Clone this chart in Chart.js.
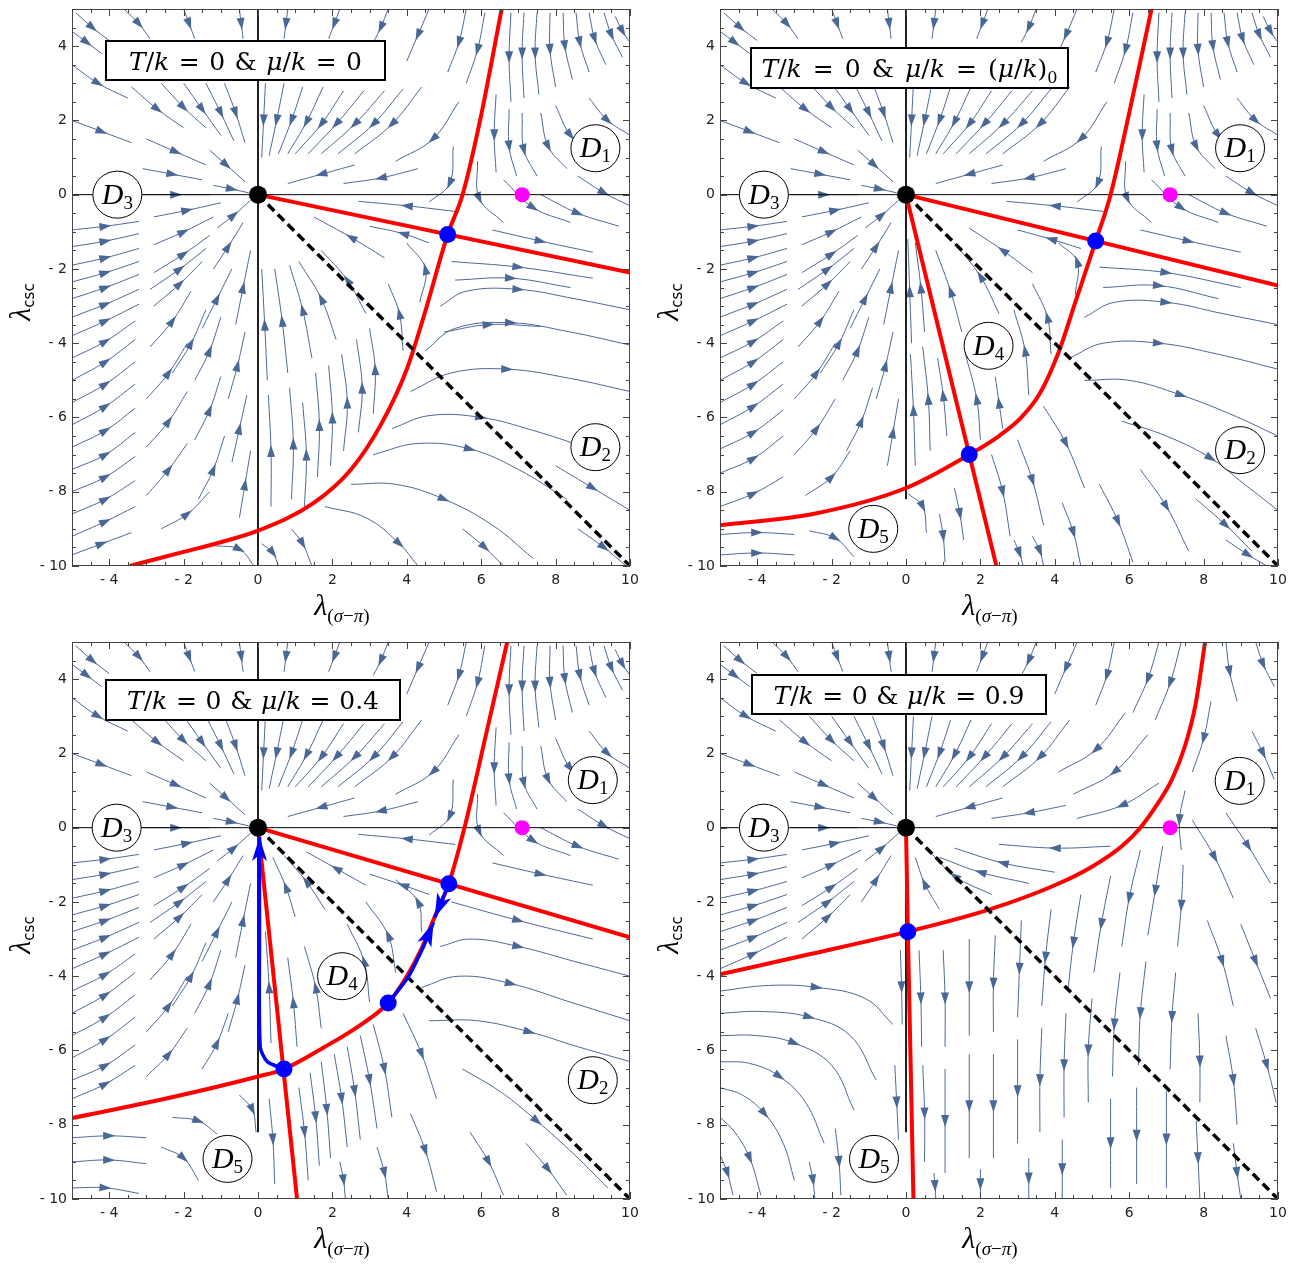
<!DOCTYPE html>
<html>
<head>
<meta charset="utf-8">
<script src="https://cdn.jsdelivr.net/npm/chart.js@4.4.0/dist/chart.umd.min.js"></script>
<style>
body { margin: 0; background: #fff; width: 1316px; height: 1266px; position: relative; overflow: hidden; }
.panel { position: absolute; width: 648px; height: 633px; }
</style>
</head>
<body>
<div class="panel" style="left:0;top:0"><canvas id="c0" width="648" height="633"></canvas></div>
<div class="panel" style="left:648px;top:0"><canvas id="c1" width="648" height="633"></canvas></div>
<div class="panel" style="left:0;top:633px"><canvas id="c2" width="648" height="633"></canvas></div>
<div class="panel" style="left:648px;top:633px"><canvas id="c3" width="648" height="633"></canvas></div>
<script>
const xTicks = [-4, -2, 0, 2, 4, 6, 8, 10]
const yTicks = [4, 2, 0, -2, -4, -6, -8, -10]

// streamlines as flat [x0,y0, x1,y1, x2,y2 ...], arrowhead at the middle point
// upper left part, the same in all four panels
const streamsNW = [
  [-4.9,4.9, -4.45,4.5, -4.0,4.15], [-3.6,5.0, -3.2,4.6, -2.9,4.2], [-2.0,5.0, -1.85,4.6, -1.7,4.2],
  [-0.5,5.0, -0.45,4.6, -0.4,4.2], [0.8,5.0, 0.75,4.6, 0.7,4.2], [2.2,5.0, 2.05,4.6, 1.9,4.2],
  [3.5,5.0, 3.3,4.5, 3.1,4.1], [4.6,5.0, 4.3,4.3, 4.0,3.6], [5.6,5.0, 5.4,4.1, 5.1,3.3],
  [-5.0,4.4, -4.6,4.1, -4.2,3.8],
  [-5.0,3.5, -4.3,3.0, -3.5,2.6], [-3.4,2.9, -2.7,2.3, -2.0,1.8], [-2.0,3.0, -1.5,2.3, -1.0,1.6],
  [-2.6,3.0, -2.0,2.35, -1.4,1.8], [-1.4,3.0, -1.0,2.2, -0.65,1.45],
  [-0.9,3.0, -0.6,2.2, -0.35,1.4], [-5.0,2.0, -4.2,1.7, -3.4,1.4], [-3.0,1.5, -2.2,1.15, -1.4,0.8],
  [-1.3,1.2, -0.85,0.8, -0.35,0.35], [-3.1,0.7, -2.3,0.55, -1.5,0.4], [-3.1,0.0, -2.2,0.0, -1.3,0.0],
  [-1.2,0.25, -0.7,0.15, -0.25,0.05], [-5.0,-0.95, -4.1,-0.85, -3.2,-0.72], [-2.8,-0.6, -1.9,-0.42, -1.0,-0.22],
  [-5.0,-1.4, -4.1,-1.25, -3.2,-1.05], [-5.0,-2.35, -4.1,-2.1, -3.2,-1.8], [-5.0,-3.3, -4.1,-2.95, -3.2,-2.55],
  [-2.9,-2.55, -2.1,-2.0, -1.4,-1.45],
  [-5.0,-1.9, -4.1,-1.7, -3.2,-1.45], [-2.8,-1.35, -2.0,-1.0, -1.2,-0.6], [-1.1,-0.9, -0.65,-0.55, -0.2,-0.15],
  [-5.0,-2.8, -4.1,-2.5, -3.2,-2.15], [-2.8,-2.1, -2.0,-1.6, -1.3,-1.1], [-5.0,-3.8, -4.1,-3.4, -3.2,-2.95],
  [-2.8,-3.0, -2.1,-2.4, -1.5,-1.8], [-1.2,-2.0, -0.8,-1.4, -0.4,-0.75],
  [0.2,3.0, 0.15,2.0, 0.1,1.0], [1.2,2.9, 0.9,2.0, 0.55,1.1], [2.3,2.8, 1.7,1.9, 1.0,1.1],
  [3.4,2.8, 2.6,1.9, 1.7,1.1], [4.4,2.9, 3.6,1.9, 2.6,1.1],
  [0.7,3.0, 0.5,2.0, 0.3,1.05], [1.75,2.9, 1.3,1.95, 0.8,1.1], [2.85,2.8, 2.1,1.9, 1.35,1.1],
  [3.9,2.85, 3.1,1.9, 2.15,1.1]
]
// panels 1-3 only
const streamsTopMid = [
  [5.4,2.5, 4.7,1.5, 3.7,0.9], [2.6,0.8, 1.7,0.55, 0.8,0.3], [4.3,0.7, 3.3,0.45, 2.3,0.3],
  [5.3,-0.45, 4.0,-0.3, 2.7,-0.18], [5.25,1.3, 5.15,0.3, 4.6,-0.2], [6.1,4.9, 5.9,3.9, 5.6,3.0]
]
const streamsD1 = [
  [6.8,4.9, 6.75,3.7, 6.8,2.5], [7.5,4.9, 7.45,3.8, 7.55,2.7], [8.2,4.9, 8.25,4.0, 8.45,3.1],
  [8.9,4.9, 9.05,4.2, 9.35,3.5], [9.6,4.8, 9.8,4.4, 10.0,4.1], [6.4,2.7, 6.35,1.6, 6.4,0.6],
  [7.1,2.2, 7.15,1.2, 7.5,0.5], [8.0,2.4, 8.4,1.6, 9.1,1.0], [8.9,2.6, 9.4,2.0, 10.0,1.6],
  [5.9,0.9, 5.95,-0.1, 6.6,-0.75], [6.6,0.4, 7.4,-0.35, 8.4,-0.75], [7.6,0.0, 8.6,-0.5, 9.7,-0.85],
  [8.6,0.5, 9.3,0.05, 10.0,-0.3], [6.3,-0.95, 7.6,-1.25, 9.0,-1.55],
  [7.15,4.9, 7.1,3.8, 7.15,2.6], [7.85,4.9, 7.85,3.9, 8.0,2.9], [8.55,4.9, 8.65,4.1, 8.9,3.3],
  [9.3,4.9, 9.5,4.3, 9.8,3.7], [7.6,2.2, 7.8,1.3, 8.3,0.7], [6.75,2.3, 6.75,1.3, 6.95,0.5]
]
const streamsW = [
  [-5.0,-5.0, -4.1,-4.5, -3.3,-3.9], [-2.9,-4.1, -2.3,-3.4, -1.8,-2.6], [-1.5,-3.6, -1.1,-2.8, -0.7,-2.0],
  [-0.6,-3.5, -0.4,-2.5, -0.2,-1.5], [-5.0,-6.2, -4.1,-5.7, -3.3,-5.1], [-3.0,-5.5, -2.4,-4.8, -1.9,-4.0],
  [-1.7,-5.0, -1.3,-4.2, -1.0,-3.3], [-0.8,-5.5, -0.55,-4.6, -0.35,-3.7],
  [-5.0,-4.4, -4.1,-3.95, -3.3,-3.4], [-5.0,-5.6, -4.1,-5.1, -3.3,-4.5], [-2.3,-4.8, -1.8,-4.0, -1.4,-3.1]
]
const streamsP1 = [
  [-5.0,-7.4, -4.1,-7.0, -3.3,-6.4], [-3.0,-6.8, -2.4,-6.1, -1.9,-5.3], [-1.7,-6.6, -1.3,-5.8, -1.0,-4.9],
  [-0.7,-7.2, -0.5,-6.3, -0.3,-5.4], [-5.0,-8.6, -4.1,-8.2, -3.3,-7.7], [-3.0,-8.1, -2.4,-7.4, -1.9,-6.7],
  [-1.6,-8.2, -1.2,-7.4, -0.9,-6.5], [-0.5,-8.7, -0.35,-7.8, -0.2,-6.9], [-5.0,-9.7, -4.2,-9.4, -3.4,-9.1],
  [-2.6,-9.0, -1.9,-8.6, -1.3,-8.0], [-1.2,-9.45, -0.5,-9.55, -0.1,-10.0], [0.1,-9.4, 0.4,-9.65, 0.55,-10.0],
  [0.9,-9.0, 1.2,-9.4, 1.45,-10.0], [-5.0,-6.8, -4.1,-6.35, -3.3,-5.75], [-5.0,-8.0, -4.1,-7.6, -3.3,-7.05],
  [-5.0,-9.2, -4.1,-8.8, -3.3,-8.4],
  [0.35,-8.4, 0.35,-6.9, 0.28,-5.4], [0.25,-5.0, 0.18,-3.5, 0.1,-2.0], [0.9,-8.2, 0.95,-6.7, 0.85,-5.2],
  [0.8,-4.8, 0.65,-3.4, 0.45,-2.0], [1.6,-7.6, 1.65,-6.2, 1.55,-4.8], [1.45,-4.4, 1.2,-3.1, 0.85,-1.9],
  [2.3,-6.9, 2.4,-5.6, 2.25,-4.3], [2.1,-3.9, 1.7,-2.8, 1.1,-1.8], [3.1,-5.9, 3.15,-4.7, 3.0,-3.6],
  [2.9,-3.2, 2.4,-2.3, 1.7,-1.5], [3.9,-4.2, 3.8,-3.2, 3.5,-2.4], [4.35,-2.9, 4.5,-2.0, 4.0,-1.3],
  [3.4,-1.7, 2.5,-1.15, 1.5,-0.6], [4.6,-1.3, 3.9,-1.05, 3.0,-0.85],
  [1.25,-8.4, 1.3,-7.0, 1.2,-5.6], [1.95,-7.3, 2.0,-6.0, 1.9,-4.6], [2.7,-6.4, 2.8,-5.2, 2.65,-3.9],
  [5.2,-1.8, 7.0,-1.95, 9.0,-2.25], [4.9,-3.0, 5.6,-2.6, 7.0,-2.55, 8.5,-2.8, 10.0,-3.1],
  [4.5,-4.2, 5.3,-3.6, 6.8,-3.45, 8.4,-3.7, 10.0,-4.05], [4.1,-5.3, 5.2,-4.8, 6.7,-4.7, 8.4,-4.95, 10.0,-5.3],
  [3.6,-6.3, 4.6,-5.95, 6.0,-6.0, 7.4,-6.35, 8.8,-6.8], [3.1,-7.0, 4.3,-6.7, 5.7,-6.85, 7.0,-7.4, 8.3,-8.2],
  [2.5,-7.8, 3.7,-7.8, 5.0,-8.2, 6.3,-8.9, 7.4,-9.8], [1.8,-8.4, 2.9,-8.7, 3.8,-9.4, 4.3,-10.0],
  [5.5,-9.0, 6.1,-9.5, 6.6,-10.0], [8.0,-7.3, 9.0,-7.9, 10.0,-8.5], [8.6,-9.0, 9.3,-9.5, 9.9,-10.0],
  [5.3,-2.3, 6.8,-2.25, 8.4,-2.5], [5.0,-3.7, 6.2,-3.5, 7.6,-3.55]
]
const streamsP2 = [
  [-5.0,-7.5, -4.1,-7.1, -3.3,-6.5], [-3.0,-7.0, -2.4,-6.3, -1.9,-5.5], [-1.6,-6.9, -1.2,-6.1, -0.9,-5.2],
  [-0.5,-7.3, -0.35,-6.4, -0.2,-5.5], [-5.0,-8.4, -4.1,-8.05, -3.3,-7.6], [-2.7,-8.1, -2.0,-7.6, -1.5,-6.9],
  [-5.0,-6.85, -4.1,-6.4, -3.3,-5.8],
  [-5.0,-9.15, -4.0,-9.1, -3.0,-9.15], [-5.0,-9.7, -4.0,-9.65, -3.0,-9.7], [-2.6,-9.05, -1.9,-9.25, -1.4,-9.75],
  [0.05,-8.05, 0.45,-8.4, 0.55,-9.1], [0.9,-8.6, 1.0,-9.2, 1.05,-9.9], [1.3,-7.9, 1.45,-8.6, 1.55,-9.3],
  [0.25,-7.3, 0.2,-5.8, 0.12,-4.3], [0.15,-4.0, 0.1,-2.6, 0.05,-1.2], [0.65,-6.9, 0.6,-5.5, 0.45,-4.1],
  [0.5,-3.7, 0.4,-2.5, 0.25,-1.3], [1.1,-6.5, 1.0,-5.4, 0.85,-4.4],
  [2.0,-6.6, 1.9,-5.5, 1.6,-4.3], [2.6,-6.3, 2.5,-5.6, 2.4,-4.9], [3.3,-5.4, 3.2,-4.2, 2.9,-3.1],
  [3.9,-4.3, 3.8,-3.3, 3.4,-2.4], [1.5,-3.7, 1.2,-2.6, 0.8,-1.5], [2.5,-3.2, 2.0,-2.2, 1.3,-1.3],
  [3.4,-2.1, 2.6,-1.5, 1.7,-0.9], [4.55,-2.7, 4.6,-1.8, 4.1,-1.3], [4.7,-1.45, 3.9,-1.2, 3.0,-0.95],
  [2.3,-7.0, 2.6,-8.0, 2.8,-9.2], [3.0,-6.6, 3.4,-7.7, 3.7,-8.9], [3.7,-5.7, 4.3,-6.7, 4.8,-7.9],
  [4.2,-8.3, 4.5,-9.1, 4.7,-10.0], [5.2,-7.8, 5.7,-8.8, 6.1,-9.9], [6.3,-7.4, 7.0,-8.4, 7.6,-9.6],
  [2.9,-9.3, 3.05,-9.65, 3.15,-10.0], [3.4,-9.2, 3.6,-9.6, 3.7,-10.0],
  [5.2,-1.95, 7.0,-2.1, 9.0,-2.5], [4.8,-3.3, 5.6,-2.9, 7.0,-2.9, 8.5,-3.2, 10.0,-3.5],
  [4.4,-4.4, 5.3,-4.0, 6.8,-4.0, 8.4,-4.3, 10.0,-4.7], [4.8,-5.0, 6.0,-5.0, 7.4,-5.4, 8.7,-5.9, 10.0,-6.5],
  [5.8,-6.1, 7.0,-6.5, 8.2,-7.1, 9.1,-7.8, 10.0,-8.5], [7.8,-8.2, 8.6,-8.9, 9.3,-9.6],
  [5.3,-2.5, 6.8,-2.45, 8.4,-2.8], [8.6,-9.3, 9.2,-9.7, 9.7,-10.0]
]
const streamsP3 = [
  [-5.0,-7.3, -4.1,-6.9, -3.3,-6.4], [-3.0,-6.7, -2.4,-6.1, -1.9,-5.4], [-1.5,-6.5, -1.1,-5.8, -0.8,-5.0],
  [-5.0,-6.8, -4.1,-6.4, -3.3,-5.85],
  [-5.0,-8.35, -4.0,-8.3, -3.0,-8.35], [-5.0,-9.0, -4.0,-8.95, -3.0,-9.05], [-5.0,-9.7, -4.1,-9.7, -3.2,-9.85],
  [-2.3,-7.8, -1.6,-7.9, -1.1,-8.25], [-2.6,-8.6, -2.0,-8.9, -1.6,-9.5], [-0.5,-7.2, -0.15,-7.6, -0.05,-8.2],
  [0.3,-7.3, 0.4,-8.4, 0.45,-9.6],
  [1.1,-7.0, 1.25,-8.2, 1.35,-9.5], [1.7,-6.3, 1.85,-7.6, 1.95,-8.9], [2.4,-5.9, 2.6,-7.1, 2.75,-8.4],
  [3.1,-5.3, 3.4,-6.5, 3.6,-7.8], [2.2,-9.0, 2.3,-9.5, 2.35,-10.0], [3.2,-8.6, 3.4,-9.3, 3.5,-10.0],
  [3.9,-5.0, 4.4,-6.1, 4.8,-7.3], [4.1,-7.7, 4.5,-8.7, 4.8,-9.8],
  [1.4,-6.6, 1.55,-7.8, 1.65,-9.1], [2.05,-6.1, 2.25,-7.3, 2.4,-8.6], [2.75,-5.6, 3.0,-6.8, 3.2,-8.1],
  [5.2,-2.0, 7.0,-2.5, 9.0,-3.0], [4.9,-3.2, 5.7,-3.0, 7.0,-3.2, 8.5,-3.6, 10.0,-4.0],
  [4.4,-4.3, 5.4,-4.0, 6.8,-4.2, 8.4,-4.7, 10.0,-5.2], [4.6,-5.2, 5.9,-5.2, 7.3,-5.5, 8.6,-5.9, 10.0,-6.3],
  [5.5,-6.5, 6.5,-7.1, 7.5,-7.9, 8.5,-8.8, 9.4,-9.7], [5.7,-8.2, 6.2,-9.0, 6.6,-9.9],
  [7.2,-8.5, 7.8,-9.2, 8.3,-9.9],
  [1.05,-5.9, 0.95,-4.7, 0.8,-3.5], [1.7,-5.4, 1.55,-4.3, 1.25,-3.2], [3.0,-4.7, 2.85,-3.6, 2.4,-2.6],
  [3.7,-3.9, 3.5,-2.9, 2.9,-2.0], [4.4,-2.8, 4.3,-2.0, 3.7,-1.4], [1.0,-2.4, 0.75,-1.6, 0.4,-0.8],
  [1.8,-2.2, 1.3,-1.45, 0.7,-0.75], [2.9,-1.55, 2.1,-1.1, 1.3,-0.65], [4.6,-1.8, 3.9,-1.55, 3.0,-1.25],
  [0.35,-5.8, 0.3,-4.3, 0.2,-2.8]
]
const streamsP4 = [
  [6.8,5.0, 6.5,4.0, 6.1,3.1], [6.5,2.5, 5.6,1.5, 4.5,0.9], [6.8,1.2, 5.8,0.6, 4.6,0.25],
  [2.6,0.8, 1.7,0.55, 0.8,0.3], [4.3,0.6, 3.3,0.4, 2.3,0.25], [5.5,-0.5, 4.0,-0.55, 2.5,-0.45],
  [4.0,-1.2, 2.6,-0.95, 1.3,-0.55], [2.3,-1.8, 1.3,-1.3, 0.6,-0.6], [0.9,-2.2, 0.5,-1.5, 0.25,-0.8],
  [7.4,5.0, 7.1,3.9, 6.7,2.9], [5.9,3.1, 5.1,2.1, 4.1,1.5], [3.3,-1.5, 2.0,-1.2, 0.9,-0.8],
  [8.6,5.0, 8.7,4.2, 8.9,3.4], [9.4,5.0, 9.6,4.4, 9.9,3.8], [8.2,3.4, 8.0,2.4, 7.7,1.5],
  [7.5,1.0, 7.35,0.2, 7.4,-0.6], [7.7,0.2, 8.3,-0.8, 8.8,-1.9], [8.6,0.4, 9.2,-0.5, 9.8,-1.5],
  [9.3,2.6, 9.6,2.0, 9.9,1.3],
  [-5.0,-4.4, -3.7,-4.25, -2.4,-4.3, -1.1,-4.6, -0.35,-5.3], [-5.0,-5.0, -3.9,-4.95, -2.6,-5.1, -1.5,-5.6, -0.8,-6.8],
  [-5.0,-5.6, -4.0,-5.6, -3.0,-5.8, -2.0,-6.4, -1.4,-7.6], [-5.0,-6.3, -4.2,-6.35, -3.4,-6.7, -2.7,-7.4, -2.2,-8.5],
  [-5.0,-7.0, -4.4,-7.2, -3.8,-7.7, -3.3,-8.5, -3.0,-9.5], [-5.0,-7.8, -4.6,-8.2, -4.2,-8.9, -3.9,-9.9],
  [-5.0,-8.8, -4.8,-9.3, -4.65,-9.9], [-0.3,-6.4, -0.25,-7.4, -0.2,-8.4], [-1.9,-8.1, -1.8,-9.0, -1.75,-9.9],
  [-0.15,-3.3, -0.12,-4.3, -0.1,-5.3], [-2.6,-9.0, -2.5,-9.5, -2.45,-10.0],
  [0.35,-3.3, 0.4,-4.6, 0.42,-5.9], [0.45,-6.4, 0.5,-7.7, 0.5,-9.0], [1.0,-3.3, 1.05,-4.6, 1.05,-5.9],
  [1.05,-6.5, 1.05,-7.9, 1.05,-9.3], [1.7,-3.0, 1.7,-4.3, 1.7,-5.6], [1.7,-6.1, 1.7,-7.5, 1.7,-8.9],
  [2.4,-2.9, 2.35,-4.2, 2.35,-5.5], [2.35,-6.1, 2.35,-7.5, 2.35,-8.9], [3.1,-2.5, 3.05,-3.8, 3.0,-5.1],
  [3.0,-5.7, 3.0,-7.1, 3.0,-8.5], [3.9,-2.2, 3.75,-3.5, 3.65,-4.8], [3.65,-5.4, 3.6,-6.8, 3.6,-8.2],
  [4.7,-1.8, 4.5,-3.1, 4.35,-4.4], [4.3,-5.0, 4.25,-6.4, 4.25,-7.8], [5.5,-1.3, 5.25,-2.6, 5.05,-3.9],
  [5.0,-4.6, 4.9,-6.0, 4.9,-7.4], [6.3,-0.6, 6.0,-1.9, 5.8,-3.2], [5.75,-3.9, 5.6,-5.3, 5.55,-6.7],
  [5.5,-7.3, 5.5,-8.5, 5.5,-9.7], [6.9,-0.5, 6.7,-1.7, 6.5,-2.9], [6.45,-3.6, 6.3,-5.0, 6.25,-6.4],
  [6.2,-7.0, 6.2,-8.3, 6.2,-9.6], [7.45,-1.0, 7.4,-2.1, 7.3,-3.2], [7.25,-3.9, 7.15,-5.1, 7.1,-6.5],
  [7.0,-7.1, 7.0,-8.4, 7.0,-9.7], [8.1,-2.5, 8.5,-3.6, 8.8,-4.8], [9.0,-2.6, 9.4,-3.6, 9.8,-4.6],
  [8.6,-5.6, 8.8,-6.8, 8.9,-8.0], [9.4,-5.4, 9.7,-6.4, 9.95,-7.4], [7.85,-5.0, 7.9,-6.3, 7.9,-7.4],
  [7.8,-7.9, 7.85,-8.9, 7.9,-10.0], [8.8,-8.5, 8.9,-9.3, 9.0,-10.0], [4.2,-8.4, 4.2,-9.2, 4.2,-10.0],
  [0.75,-9.3, 0.78,-9.65, 0.8,-10.0], [2.0,-9.2, 2.0,-9.6, 2.0,-10.0], [3.3,-8.9, 3.3,-9.45, 3.3,-10.0]
]

// red separatrices
const red1 = [
  [0,0, 10,-2.1],
  [-3.45,-10, -2,-9.62, -1,-9.36, 0,-9.05, 1.5,-8.3, 2.5,-7.4, 3.3,-6.2, 4.0,-4.7, 4.45,-3.3, 5.1,-1.07, 5.5,0, 5.97,2, 6.55,5]
]
const red2 = [
  [0,0, 10,-2.45],
  [0,0, 2.43,-10],
  [-5,-8.9, -2.5,-8.6, 0,-7.9, 1.7,-7.0, 2.5,-6.5, 3.1,-6.0, 3.6,-5.35, 4.1,-4.25, 4.55,-2.9, 5.1,-1.25, 5.5,0, 6.0,2.2, 6.6,5]
]
const red3 = [
  [0,0, 10,-2.95],
  [0,0, 1.05,-10],
  [-5,-7.82, -2.5,-7.3, 0,-6.7, 0.7,-6.5, 1.8,-5.9, 2.7,-5.35, 3.5,-4.72, 4.0,-4.0, 4.4,-3.25, 4.75,-2.4, 5.13,-1.5, 5.55,0, 6.15,2.6, 6.7,5]
]
const red4 = [
  [0,0, 0.05,-2.8, 0.2,-10],
  [-5,-3.95, -2.6,-3.41, 0.05,-2.8, 2.25,-2.2, 4.0,-1.55, 5.0,-1.05, 5.8,-0.5, 6.3,0, 6.8,0.7, 7.15,1.3, 7.5,2.2, 7.78,3.3, 8.04,5]
]
const bluePaths3 = [
  [0.7,-6.5, 0.25,-6.3, 0.06,-5.9, 0.04,-3.0, 0.04,-0.25],
  [3.5,-4.72, 4.05,-4.0, 4.45,-3.2, 4.72,-2.55],
  [5.13,-1.51, 4.95,-1.95, 4.75,-2.42]
]
const dashedLine = [0,0, 10,-10]
const blackDot = [0, 0]
const magentaDot = [7.1, 0]
const blueDots = [
  [5.1,-1.07],
  [5.1,-1.25, 1.7,-7.0],
  [5.13,-1.51, 3.5,-4.72, 0.7,-6.5],
  [0.05,-2.8]
]
const regionLabels = [
  [[9.07,1.25,'1'], [-3.78,0,'3'], [9.07,-6.8,'2']],
  [[8.98,1.25,'1'], [-3.82,0,'3'], [2.22,-4.07,'4'], [8.98,-6.88,'2'], [-0.88,-9.0,'5']],
  [[9.0,1.28,'1'], [-3.8,0,'3'], [2.26,-4.0,'4'], [9.0,-6.8,'2'], [-0.82,-8.92,'5']],
  [[8.97,1.26,'1'], [-3.82,0,'3'], [-0.86,-8.92,'5']]
]
const rhsText = [
  [['0','r']],
  [['(','r'],['μ','i'],['/','r'],['k','i'],[')','r'],['0','s']],
  [['0.4','r']],
  [['0.9','r']]
]

const SC = '#4a6896'
const SERIF = '"Liberation Serif", "DejaVu Serif", serif'
const TSERIF = '"DejaVu Serif", serif'
const FONTS = {
  i: 'italic 25px ' + TSERIF,
  r: '25px ' + TSERIF,
  s: '16px ' + TSERIF
}

function toPts(a) {
  const p = []
  for (let i = 0; i < a.length; i += 2) p.push({x: a[i], y: a[i + 1]})
  return p
}
function fmt(v) {
  return v < 0 ? '- ' + Math.abs(v) : String(v)
}

const arrowPlugin = {
  id: 'arrows',
  afterDatasetDraw(chart, args) {
    const ds = chart.data.datasets[args.index]
    if (!ds.arrow) return
    const pts = args.meta.data
    const n = pts.length
    const ctx = chart.ctx, a = chart.chartArea
    let k, p, q, len, hw, notch, shift
    if (ds.arrow === 'end') {
      k = n - 1; p = pts[n - 2]; q = pts[n - 1]
      len = 24; hw = 7.5; notch = 6; shift = 0
    } else {
      k = Math.floor(n / 2); p = pts[k - 1]; q = pts[k + 1]
      len = 12; hw = 4; notch = 0; shift = 6
    }
    let dx = q.x - p.x, dy = q.y - p.y
    const d = Math.hypot(dx, dy) || 1
    dx /= d; dy /= d
    const tx = pts[k].x + dx * shift, ty = pts[k].y + dy * shift
    const bx = tx - dx * len, by = ty - dy * len
    ctx.save()
    ctx.beginPath()
    ctx.rect(a.left, a.top, a.right - a.left, a.bottom - a.top)
    ctx.clip()
    ctx.beginPath()
    ctx.moveTo(tx, ty)
    ctx.lineTo(bx - dy * hw, by + dx * hw)
    ctx.lineTo(bx + dx * notch, by + dy * notch)
    ctx.lineTo(bx + dy * hw, by - dx * hw)
    ctx.closePath()
    ctx.fillStyle = ds.borderColor
    ctx.fill()
    ctx.restore()
  }
}

function richWidth(ctx, segs) {
  let w = 0
  segs.forEach(s => {
    if (typeof s === 'number') { w += s; return }
    ctx.font = s.f
    w += ctx.measureText(s.t).width
  })
  return w
}
function drawRich(ctx, segs, x, y) {
  let cx = x
  segs.forEach(s => {
    if (typeof s === 'number') { cx += s; return }
    ctx.font = s.f
    ctx.fillText(s.t, cx, y + (s.dy || 0))
    cx += ctx.measureText(s.t).width
  })
}

const decoPlugin = {
  id: 'deco',
  afterDraw(chart) {
    const o = chart.options.plugins.deco
    const ctx = chart.ctx, a = chart.chartArea
    const xs = chart.scales.x, ys = chart.scales.y
    ctx.save()
    // frame and inner ticks
    ctx.strokeStyle = '#444'
    ctx.lineWidth = 1
    ctx.strokeRect(a.left + 0.5, a.top + 0.5, a.right - a.left - 1, a.bottom - a.top - 1)
    ctx.beginPath()
    for (let v = -5; v <= 10.001; v += 0.5) {
      const L = Math.abs(v % 2) < 1e-6 ? 7 : 4
      const px = Math.round(xs.getPixelForValue(v)) + 0.5
      ctx.moveTo(px, a.bottom); ctx.lineTo(px, a.bottom - L)
      ctx.moveTo(px, a.top); ctx.lineTo(px, a.top + L)
    }
    for (let v = -10; v <= 5.001; v += 0.5) {
      const L = Math.abs(v % 2) < 1e-6 ? 7 : 4
      const py = Math.round(ys.getPixelForValue(v)) + 0.5
      ctx.moveTo(a.left, py); ctx.lineTo(a.left + L, py)
      ctx.moveTo(a.right, py); ctx.lineTo(a.right - L, py)
    }
    ctx.stroke()

    // region labels
    ctx.textBaseline = 'alphabetic'
    o.labels.forEach(([x, y, n]) => {
      const cx = xs.getPixelForValue(x), cy = ys.getPixelForValue(y)
      ctx.beginPath()
      ctx.ellipse(cx, cy, 24.5, 23.5, 0, 0, 2 * Math.PI)
      ctx.fillStyle = '#fff'
      ctx.fill()
      ctx.strokeStyle = '#000'
      ctx.lineWidth = 1
      ctx.stroke()
      ctx.fillStyle = '#000'
      const segs = [{t: 'D', f: 'italic 30px ' + SERIF}, {t: n, f: '19px ' + SERIF, dy: 5}]
      const w = richWidth(ctx, segs)
      drawRich(ctx, segs, cx - w / 2, cy + 9)
    })

    // title box
    const b = o.box
    const bx = a.left + b[0], by = a.top + b[1]
    ctx.fillStyle = '#fff'
    ctx.fillRect(bx, by, b[2], b[3])
    ctx.strokeStyle = '#000'
    ctx.lineWidth = 2
    ctx.strokeRect(bx, by, b[2], b[3])
    const parts = [['T','i'],['/','r'],['k','i'],'g',['=','r'],'g',['0','r'],'g',['&','r'],'g',
                   ['μ','i'],['/','r'],['k','i'],'g',['=','r'],'g'].concat(o.rhs)
    const raw = parts.filter(p => p !== 'g').map(p => ({t: p[0], f: FONTS[p[1]]}))
    const gaps = parts.filter(p => p === 'g').length
    const g = Math.max(4, (b[4] - richWidth(ctx, raw)) / gaps)
    const segs = parts.map(p => p === 'g' ? g : {t: p[0], f: FONTS[p[1]], dy: p[1] === 's' ? 6 : 0})
    const tw = richWidth(ctx, segs)
    ctx.fillStyle = '#000'
    drawRich(ctx, segs, bx + (b[2] - tw) / 2, by + b[3] / 2 + 9)

    // axis titles
    const xt = [{t: 'λ', f: 'italic 30px ' + SERIF}, {t: '(', f: '19px ' + SERIF, dy: 7},
                {t: 'σ', f: 'italic 19px ' + SERIF, dy: 7}, {t: '−', f: '19px ' + SERIF, dy: 7},
                {t: 'π', f: 'italic 19px ' + SERIF, dy: 7}, {t: ')', f: '19px ' + SERIF, dy: 7}]
    const xw = richWidth(ctx, xt)
    drawRich(ctx, xt, a.left + (a.right - a.left) / 2 - 9 - xw / 2, 615)
    const yt = [{t: 'λ', f: 'italic 30px ' + SERIF}, {t: 'csc', f: '15px "DejaVu Sans", sans-serif', dy: 4}]
    const yw = richWidth(ctx, yt)
    ctx.translate(30, 302)
    ctx.rotate(-Math.PI / 2)
    drawRich(ctx, yt, -yw / 2, 0)
    ctx.restore()
  }
}

function makePanel(id, streams, red, blue, paths, axisEnd, labels, box, rhs) {
  const datasets = []
  streams.forEach(a => datasets.push({
    data: toPts(a), showLine: true, borderColor: SC, borderWidth: 1, pointRadius: 0,
    tension: 0.4, order: 10, arrow: 'mid'
  }))
  datasets.push({data: toPts([-5,0, 10,0]), showLine: true, borderColor: '#000', borderWidth: 1, pointRadius: 0, order: 9})
  datasets.push({data: toPts([0,5, 0,axisEnd]), showLine: true, borderColor: '#000', borderWidth: 1, pointRadius: 0, order: 9})
  red.forEach(c => datasets.push({
    data: toPts(c), showLine: true, borderColor: '#ff0000', borderWidth: 4, pointRadius: 0,
    cubicInterpolationMode: c.length > 6 ? 'monotone' : 'default', tension: 0, order: 5
  }))
  datasets.push({data: toPts(dashedLine), showLine: true, borderColor: '#000', borderWidth: 3.5,
    borderDash: [9, 5], pointRadius: 0, order: 4})
  paths.forEach(c => datasets.push({
    data: toPts(c), showLine: true, borderColor: '#0000ff', borderWidth: 3.5, pointRadius: 0,
    tension: 0.25, order: 3, arrow: 'end'
  }))
  datasets.push({data: toPts(magentaDot), pointRadius: 7.5, pointBackgroundColor: '#ff00ff', pointBorderWidth: 0, order: 1})
  datasets.push({data: toPts(blackDot), pointRadius: 9, pointBackgroundColor: '#000', pointBorderWidth: 0, order: 1})
  datasets.push({data: toPts(blue), pointRadius: 8.5, pointBackgroundColor: '#0000ff', pointBorderWidth: 0, order: 1})

  new Chart(document.getElementById(id), {
    type: 'scatter',
    data: {datasets: datasets},
    options: {
      responsive: false,
      animation: false,
      devicePixelRatio: 1,
      events: [],
      layout: {padding: {top: 4, right: 18, left: 0, bottom: 0}},
      plugins: {
        legend: {display: false},
        tooltip: {enabled: false},
        deco: {labels: labels, box: box, rhs: rhs}
      },
      scales: {
        x: {
          type: 'linear', min: -5, max: 10,
          afterBuildTicks: s => { s.ticks = xTicks.map(v => ({value: v})) },
          afterFit: s => { s.height = 67; s.paddingLeft = 0; s.paddingRight = 0 },
          grid: {display: false, drawTicks: false},
          border: {display: false},
          ticks: {padding: 6, color: '#222', autoSkip: false, maxRotation: 0,
                  font: {family: 'DejaVu Sans', size: 14}, callback: v => fmt(v)}
        },
        y: {
          type: 'linear', min: -10, max: 5,
          afterBuildTicks: s => { s.ticks = yTicks.map(v => ({value: v})) },
          afterFit: s => { s.width = 72; s.paddingTop = 0; s.paddingBottom = 0 },
          grid: {display: false, drawTicks: false},
          border: {display: false},
          ticks: {padding: 5, color: '#222', autoSkip: false,
                  font: {family: 'DejaVu Sans', size: 14}, callback: v => fmt(v)}
        }
      }
    },
    plugins: [arrowPlugin, decoPlugin]
  })
}

const topCommon = streamsNW.concat(streamsTopMid, streamsD1, streamsW)
makePanel('c0', topCommon.concat(streamsP1), red1, blueDots[0], [], -10, regionLabels[0], [34, 32, 279, 39, 233], rhsText[0])
makePanel('c1', topCommon.concat(streamsP2), red2, blueDots[1], [], -8.2, regionLabels[1], [31, 39, 317, 40, 296], rhsText[1])
makePanel('c2', topCommon.concat(streamsP3), red3, blueDots[2], bluePaths3, -8.2, regionLabels[2], [34, 38, 294, 40, 252], rhsText[2])
makePanel('c3', streamsNW.concat(streamsP4), red4, blueDots[3], [], -8.2, regionLabels[3], [32, 33, 294, 39, 251], rhsText[3])
</script>
</body>
</html>
